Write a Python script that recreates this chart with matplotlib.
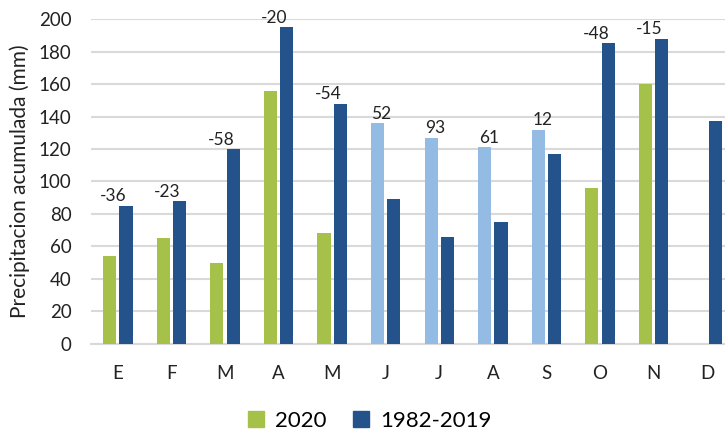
import matplotlib
matplotlib.use("Agg")
import matplotlib.pyplot as plt
import numpy as np
from matplotlib.patches import Patch

plt.rcParams['font.family'] = ['Lato', 'DejaVu Sans']

months = ["E", "F", "M", "A", "M", "J", "J", "A", "S", "O", "N", "D"]
vals_2020 = [54, 65, 50, 156, 68, 136, 127, 121, 132, 96, 160, np.nan]
vals_hist = [85, 88, 120, 195, 148, 89, 66, 75, 117, 185, 188, 137]
diff_labels = ["-36", "-23", "-58", "-20", "-54", "52", "93", "61", "12", "-48", "-15", ""]
yticks = [0, 20, 40, 60, 80, 100, 120, 140, 160, 180, 200]

green = "#A6C14A"
dark = "#24528A"
light = "#94BBE4"
colors_2020 = [green] * 5 + [light] * 4 + [green] * 3

fig = plt.figure(figsize=(7.25, 4.34), dpi=100)
ax = fig.add_axes([0.1255, 0.2074, 0.8869, 0.7488])

x = np.arange(len(months))
w = 0.245
gap = 0.06
ax.bar(x - (w + gap) / 2, vals_2020, width=w, color=colors_2020, zorder=3)
ax.bar(x + (w + gap) / 2, vals_hist, width=w, color=dark, zorder=3)

for i, lab in enumerate(diff_labels):
    if not lab:
        continue
    top = np.nanmax([vals_2020[i], vals_hist[i]])
    ax.annotate(lab, xy=(x[i], top), xytext=(-3, 1), textcoords="offset points",
                ha="center", va="bottom", fontsize=12.5, color="#222222",
                annotation_clip=False)

ax.set_xlim(-0.5, len(months) - 0.5)
ax.set_ylim(0, 200)
ax.set_yticks(yticks)
ax.set_xticks(x)
ax.set_xticklabels(months)
ax.tick_params(axis="both", length=0, labelsize=13.5, colors="#222222")
ax.tick_params(axis="x", pad=15)
ax.tick_params(axis="y", pad=14)
ax.grid(axis="y", color="#D9D9D9", linewidth=1.5, zorder=0)
for s in ["top", "right", "left"]:
    ax.spines[s].set_visible(False)
ax.spines["bottom"].set_color("#D9D9D9")
ax.spines["bottom"].set_linewidth(1.5)
ax.set_ylabel("Precipitacion acumulada (mm)", fontsize=15, color="#222222", labelpad=6)

handles = [Patch(color=green, label="2020"), Patch(color=dark, label="1982-2019")]
fig.legend(handles=handles, loc="center", bbox_to_anchor=(0.51, 0.03), ncol=2,
           frameon=False, fontsize=16, handlelength=0.7, handleheight=0.7,
           columnspacing=1.2, handletextpad=0.5)

fig.savefig("out.png", dpi=100)
